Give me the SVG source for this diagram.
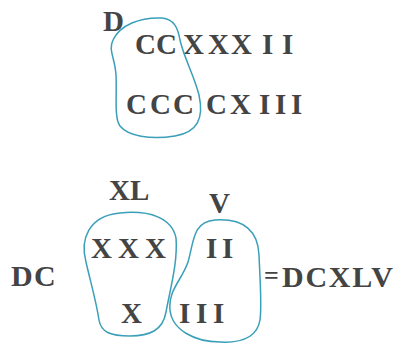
<svg xmlns="http://www.w3.org/2000/svg" width="398" height="344" viewBox="0 0 398 344">
<style>
.t{font-family:"Liberation Serif","DejaVu Serif",serif;font-weight:bold;fill:#444444;font-size:29px}
.b{fill:none;stroke:#3a9fb8;stroke-width:1.5;stroke-linejoin:round}
</style>
<rect width="398" height="344" fill="#ffffff"/>
<g id="top-rows">
<text class="t" x="103" y="31">D</text>
<text class="t" x="135 156 183 208 231 262 282" y="54">CCXXXII</text>
<text class="t" x="126 150 173 206 230 259 275 291" y="114">CCCCXIII</text>
</g>
<g id="bottom-rows">
<text class="t" x="109 130" y="200">XL</text>
<text class="t" x="209" y="213">V</text>
<text class="t" style="font-size:30px" x="11 34" y="286">DC</text>
<text class="t" x="91 118 145" y="258">XXX</text>
<text class="t" x="206 222" y="258">II</text>
<text class="t" x="121" y="323">X</text>
<text class="t" x="179 196 213" y="323">III</text>
<text class="t" style="font-size:26px" x="264" y="284">=</text>
<text class="t" style="font-size:30px" x="282" y="287" textLength="111" lengthAdjust="spacing">DCXLV</text>
</g>
<g id="groupings">
<path class="b" d="M113,40 C120,25 140,17 162,18 C174,19 178,28 180,40 C184,58 194,75 199,95 C204,118 198,132 175,136 C150,140 128,136 120,126 C114,118 117,95 116,75 C115,58 108,50 113,40 Z"/>
<path class="b" d="M120,213 C150,210 172,218 176,238 C178,262 170,290 166,312 C163,330 150,336 130,336 C110,336 101,332 99,320 C96,300 90,280 86,262 C80,240 88,216 120,213 Z"/>
<path class="b" d="M215,220 C245,218 258,232 259,255 C260,280 262,305 260,320 C257,338 240,343 220,342 C195,342 172,330 170,310 C168,290 182,280 188,262 C194,242 192,222 215,220 Z"/>
</g>
</svg>
